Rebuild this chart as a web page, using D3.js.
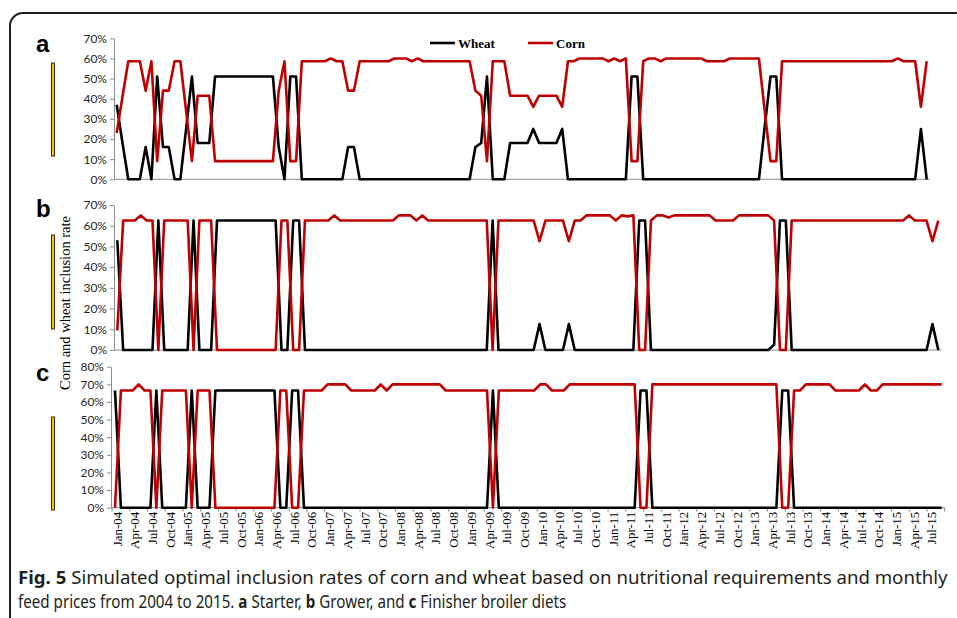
<!DOCTYPE html>
<html><head><meta charset="utf-8">
<script src="https://cdn.jsdelivr.net/npm/d3@7"></script>
<style>body{margin:0;background:#fff}svg{display:block}</style>
</head><body>
<svg id="chart" width="957" height="618"></svg>
<script>
// ---------- DATA ----------
const monthNames = ["Jan","Feb","Mar","Apr","May","Jun","Jul","Aug","Sep","Oct","Nov","Dec"];
const yearLabels = ["04","05","06","07","08","09","10","11","12","13","14","15"];
const months = [];
yearLabels.forEach(y => monthNames.forEach(m => months.push(m + "-" + y)));
months.splice(141); // Jan-04 .. Sep-15

const tickLabels = ["Jan-04","Apr-04","Jul-04","Oct-04","Jan-05","Apr-05","Jul-05","Oct-05",
  "Jan-06","Apr-06","Jul-06","Oct-06","Jan-07","Apr-07","Jul-07","Oct-07","Jan-08","Apr-08",
  "Jul-08","Oct-08","Jan-09","Apr-09","Jul-09","Oct-09","Jan-10","Apr-10","Jul-10","Oct-10",
  "Jan-11","Apr-11","Jul-11","Oct-11","Jan-12","Apr-12","Jul-12","Oct-12","Jan-13","Apr-13",
  "Jul-13","Oct-13","Jan-14","Apr-14","Jul-14","Oct-14","Jan-15","Apr-15","Jul-15"];

const yTicks70 = [0,10,20,30,40,50,60,70];
const yTicks80 = [0,10,20,30,40,50,60,70,80];
const seriesNames = ["Wheat","Corn"];

// (a) Starter, % inclusion (one row per year)
const starterWheat = [
  37,18,0,0,0,16,0,51,16,16,0,0,
  25,51,18,18,18,51,51,51,51,51,51,51,
  51,51,51,51,16,0,51,51,0,0,0,0,
  0,0,0,0,16,16,0,0,0,0,0,0,
  0,0,0,0,0,0,0,0,0,0,0,0,
  0,0,16,18,51,0,0,0,18,18,18,18,
  25,18,18,18,18,25,0,0,0,0,0,0,
  0,0,0,0,0,51,51,0,0,0,0,0,
  0,0,0,0,0,0,0,0,0,0,0,0,
  0,0,0,0,26,51,51,0,0,0,0,0,
  0,0,0,0,0,0,0,0,0,0,0,0,
  0,0,0,0,0,0,0,25,0];
const starterCorn = [
  23,41,58.6,58.6,58.6,44,58.6,9,44,44,58.6,58.6,
  34,9,41.5,41.5,41.5,9,9,9,9,9,9,9,
  9,9,9,9,44,58.6,9,9,58.6,58.6,58.6,58.6,
  58.6,60,58.6,58.6,44,44,58.6,58.6,58.6,58.6,58.6,58.6,
  60,60,60,58.6,60,58.6,58.6,58.6,58.6,58.6,58.6,58.6,
  58.6,58.6,44,41.5,9,58.6,58.6,58.6,41.5,41.5,41.5,41.5,
  36,41.5,41.5,41.5,41.5,36,58.6,58.6,60,60,60,60,
  60,58.6,60,58.6,60,9,9,58.6,60,60,58.6,60,
  60,60,60,60,60,60,58.6,58.6,58.6,58.6,60,60,
  60,60,60,60,34,9,9,58.6,58.6,58.6,58.6,58.6,
  58.6,58.6,58.6,58.6,58.6,58.6,58.6,58.6,58.6,58.6,58.6,58.6,
  58.6,58.6,58.6,60,58.6,58.6,58.6,36,58.6];

// (b) Grower
const growerWheat = [
  53,0,0,0,0,0,0,62.5,0,0,0,0,
  0,62.5,0,0,0,62.5,62.5,62.5,62.5,62.5,62.5,62.5,
  62.5,62.5,62.5,62.5,0,0,62.5,62.5,0,0,0,0,
  0,0,0,0,0,0,0,0,0,0,0,0,
  0,0,0,0,0,0,0,0,0,0,0,0,
  0,0,0,0,62.5,0,0,0,0,0,0,0,
  12.5,0,0,0,0,12.5,0,0,0,0,0,0,
  0,0,0,0,0,62.5,62.5,0,0,0,0,0,
  0,0,0,0,0,0,0,0,0,0,0,0,
  0,0,0,0,2.5,62.5,62.5,0,0,0,0,0,
  0,0,0,0,0,0,0,0,0,0,0,0,
  0,0,0,0,0,0,0,12.5,0];
const growerCorn = [
  9.5,62.5,62.5,62.5,65,62.5,62.5,0,62.5,62.5,62.5,62.5,
  62.5,0,62.5,62.5,62.5,0,0,0,0,0,0,0,
  0,0,0,0,62.5,62.5,0,0,62.5,62.5,62.5,62.5,
  62.5,65,62.5,62.5,62.5,62.5,62.5,62.5,62.5,62.5,62.5,62.5,
  65,65,65,62.5,65,62.5,62.5,62.5,62.5,62.5,62.5,62.5,
  62.5,62.5,62.5,62.5,0,62.5,62.5,62.5,62.5,62.5,62.5,62.5,
  52.5,62.5,62.5,62.5,62.5,52.5,62.5,62.5,65,65,65,65,
  65,62.5,65,64.5,65,0,0,62.5,65,65,64,65,
  65,65,65,65,65,65,62.5,62.5,62.5,62.5,65,65,
  65,65,65,65,62.5,0,0,62.5,62.5,62.5,62.5,62.5,
  62.5,62.5,62.5,62.5,62.5,62.5,62.5,62.5,62.5,62.5,62.5,62.5,
  62.5,62.5,62.5,65,62.5,62.5,62.5,52.5,62.5];

// (c) Finisher
const finisherWheat = [
  66.5,0,0,0,0,0,0,66.5,0,0,0,0,
  0,66.5,0,0,0,66.5,66.5,66.5,66.5,66.5,66.5,66.5,
  66.5,66.5,66.5,66.5,0,0,66.5,66.5,0,0,0,0,
  0,0,0,0,0,0,0,0,0,0,0,0,
  0,0,0,0,0,0,0,0,0,0,0,0,
  0,0,0,0,66.5,0,0,0,0,0,0,0,
  0,0,0,0,0,0,0,0,0,0,0,0,
  0,0,0,0,0,66.5,66.5,0,0,0,0,0,
  0,0,0,0,0,0,0,0,0,0,0,0,
  0,0,0,0,0,66.5,66.5,0,0,0,0,0,
  0,0,0,0,0,0,0,0,0,0,0,0,
  0,0,0,0,0,0,0,0,0];
const finisherCorn = [
  0,66.5,66.5,66.5,70,66.5,66.5,0,66.5,66.5,66.5,66.5,
  66.5,0,66.5,66.5,66.5,0,0,0,0,0,0,0,
  0,0,0,0,66.5,66.5,0,0,66.5,66.5,66.5,66.5,
  70,70,70,70,66.5,66.5,66.5,66.5,66.5,70,66.5,70,
  70,70,70,70,70,70,70,70,66.5,66.5,66.5,66.5,
  66.5,66.5,66.5,66.5,0,66.5,66.5,66.5,66.5,66.5,66.5,66.5,
  70,70,66.5,66.5,66.5,70,70,70,70,70,70,70,
  70,70,70,70,70,0,0,70,70,70,70,70,
  70,70,70,70,70,70,70,70,70,70,70,70,
  70,70,70,70,70,0,0,66.5,66.5,70,70,70,
  70,70,66.5,66.5,66.5,66.5,66.5,70,66.5,66.5,70,70,
  70,70,70,70,70,70,70,70,70];

// ---------- LAYOUT ----------
const svg = d3.select("#chart");
const colors = {Wheat: "#000000", Corn: "#C00000"};

// frame
svg.append("rect").attr("x", 10).attr("y", 13).attr("width", 980).attr("height", 640)
  .attr("rx", 13).attr("fill", "none").attr("stroke", "#231f20").attr("stroke-width", 2);

const panels = [
  {id:"a", wheat: starterWheat, corn: starterCorn, axisX:114, xr:[116.7, 926.7], yr:[179.3, 38.3], max:70, ticks:yTicks70, labelY:52, bar:[63, 156]},
  {id:"b", wheat: growerWheat, corn: growerCorn, axisX:114, xr:[117.3, 938.3], yr:[350, 205], max:70, ticks:yTicks70, labelY:217, bar:[235, 329]},
  {id:"c", wheat: finisherWheat, corn: finisherCorn, axisX:111, xr:[115, 941.7], yr:[507.7, 366.7], max:80, ticks:yTicks80, labelY:381, bar:[417, 510], xLabels:true}
];

panels.forEach(p => {
  const x = d3.scalePoint().domain(months).range(p.xr);
  const y = d3.scaleLinear().domain([0, p.max]).range(p.yr);
  const step = x.step();
  const g = svg.append("g");

  g.append("text").attr("x", 36).attr("y", p.labelY).text(p.id)
    .attr("font-family", "Liberation Sans, Arial, sans-serif").attr("font-weight", "bold")
    .attr("font-size", 24).attr("fill", "#000");

  g.append("rect").attr("x", 51.5).attr("y", p.bar[0]).attr("width", 3).attr("height", p.bar[1] - p.bar[0])
    .attr("fill", "#FFC000").attr("stroke", "#3a2a00").attr("stroke-width", 1);

  const yAxis = d3.axisLeft(y).tickValues(p.ticks).tickSize(4).tickSizeOuter(0).tickFormat(d => d + "%");
  const ya = g.append("g").attr("transform", `translate(${p.axisX},0)`).call(yAxis);
  ya.select(".domain").attr("stroke", "#8c8c8c").attr("stroke-width", 1);
  ya.selectAll(".tick line").attr("stroke", "#8c8c8c");
  ya.selectAll(".tick text").attr("font-family", "Lato, 'Open Sans', sans-serif").attr("font-size", 12)
    .attr("fill", "#262626").attr("x", -7);

  const xEnd = p.xr[1] + step / 2;
  g.append("line").attr("x1", p.axisX).attr("x2", xEnd).attr("y1", y(0)).attr("y2", y(0))
    .attr("stroke", "#8c8c8c").attr("stroke-width", 1);

  if (p.xLabels) {
    const xa = g.append("g");
    tickLabels.forEach(lbl => {
      const cx = x(lbl);
      xa.append("line").attr("x1", cx - step / 2).attr("x2", cx - step / 2)
        .attr("y1", y(0)).attr("y2", y(0) + 4).attr("stroke", "#8c8c8c");
      xa.append("text").attr("transform", `translate(${cx + 2},${y(0) + 4}) rotate(-90)`)
        .attr("text-anchor", "end").attr("dy", "0.35em")
        .attr("font-family", "Liberation Serif, 'Times New Roman', serif").attr("font-size", 13)
        .attr("fill", "#000").text(lbl);
    });
    xa.append("line").attr("x1", xEnd).attr("x2", xEnd).attr("y1", y(0)).attr("y2", y(0) + 4).attr("stroke", "#8c8c8c");
  }

  const line = d3.line().x((d, i) => x(months[i])).y(d => y(d));
  [["Wheat", p.wheat], ["Corn", p.corn]].forEach(([name, vals]) => {
    g.append("path").datum(vals).attr("d", line).attr("fill", "none")
      .attr("stroke", colors[name]).attr("stroke-width", 2.6).attr("stroke-linejoin", "round");
  });
});

// y axis title
svg.append("text").attr("transform", "translate(70,303) rotate(-90)").attr("text-anchor", "middle")
  .attr("font-family", "Liberation Serif, 'Times New Roman', serif").attr("font-size", 14.5)
  .attr("fill", "#000").text("Corn and wheat inclusion rate");

// legend
const legendPos = [{name: "Wheat", x: 430}, {name: "Corn", x: 528}];
legendPos.forEach(l => {
  svg.append("line").attr("x1", l.x).attr("x2", l.x + 25).attr("y1", 43).attr("y2", 43)
    .attr("stroke", colors[l.name]).attr("stroke-width", 2.6);
  svg.append("text").attr("x", l.x + 28).attr("y", 47.5).text(l.name)
    .attr("font-family", "Liberation Serif, 'Times New Roman', serif").attr("font-weight", "bold")
    .attr("font-size", 13).attr("fill", "#000");
});

// caption (horizontally scaled to mimic the condensed journal font)
function caption(parts, yBase, targetWidth) {
  const g = svg.append("g");
  const t = g.append("text").attr("x", 0).attr("y", 0)
    .attr("font-family", "'Noto Sans', 'Open Sans', sans-serif").attr("font-size", 18).attr("fill", "#231f20");
  parts.forEach(([s, b]) => t.append("tspan").attr("font-weight", b ? "bold" : "normal").text(s));
  const w = t.node().getComputedTextLength();
  g.attr("transform", `translate(18,${yBase}) scale(${targetWidth / w},1)`);
}
caption([["Fig. 5", true], [" Simulated optimal inclusion rates of corn and wheat based on nutritional requirements and monthly", false]], 584, 930);
caption([["feed prices from 2004 to 2015. ", false], ["a", true], [" Starter, ", false], ["b", true],
  [" Grower, and ", false], ["c", true], [" Finisher broiler diets", false]], 608, 549);
</script>
</body></html>
